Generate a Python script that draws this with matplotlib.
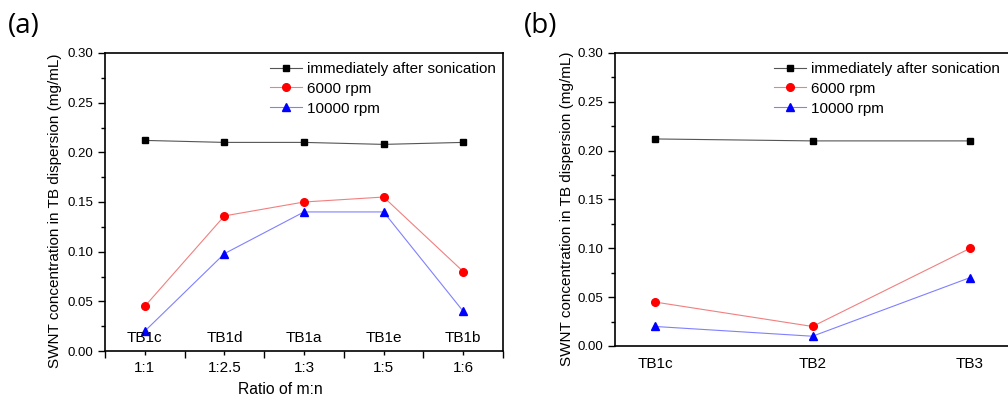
import numpy as np
import matplotlib
matplotlib.use("Agg")
import matplotlib.pyplot as plt
from matplotlib.ticker import MultipleLocator, FixedLocator

plt.rcParams["font.family"] = ["Liberation Sans", "DejaVu Sans"]

# panel (a)
ratios = ["1:1", "1:2.5", "1:3", "1:5", "1:6"]
samples_a = ["TB1c", "TB1d", "TB1a", "TB1e", "TB1b"]
after_son_a = [0.212, 0.210, 0.210, 0.208, 0.210]
rpm6000_a = [0.045, 0.136, 0.150, 0.155, 0.080]
rpm10000_a = [0.020, 0.098, 0.140, 0.140, 0.040]

# panel (b)
samples_b = ["TB1c", "TB2", "TB3"]
after_son_b = [0.212, 0.210, 0.210]
rpm6000_b = [0.045, 0.020, 0.100]
rpm10000_b = [0.020, 0.010, 0.070]

labels = ["immediately after sonication", "6000 rpm", "10000 rpm"]

W, H = 1008, 399
fig = plt.figure(figsize=(W / 100, H / 100), dpi=100)


def px_axes(l, t, r, b):
    return fig.add_axes([l / W, 1 - b / H, (r - l) / W, (b - t) / H])


def draw_series(ax, x, ys):
    styles = [("black", "s", 5), ("red", "o", 5.5), ("blue", "^", 6)]
    line_cols = ["#555555", "#f08080", "#8080ff"]
    for y, (c, m, ms), lc, lab in zip(ys, styles, line_cols, labels):
        ax.plot(x, y, color=lc, lw=0.8, marker=m, ms=ms,
                mfc=c, mec=c, label=lab)


def style_y(ax):
    ax.set_ylim(0, 0.30)
    ax.yaxis.set_major_locator(MultipleLocator(0.05))
    ax.yaxis.set_minor_locator(MultipleLocator(0.025))
    ax.set_yticklabels([f"{v:.2f}" for v in ax.get_yticks()])
    ax.tick_params(axis="y", which="major", direction="out", length=5,
                   width=1, labelsize=9.5, colors="black")
    ax.tick_params(axis="y", which="minor", direction="out", length=3, width=1)
    for s in ax.spines.values():
        s.set_linewidth(1.2)


def add_legend(ax, x0, y0):
    ax.legend(loc="upper left", bbox_to_anchor=(x0, y0),
              frameon=False, fontsize=11, borderpad=0, borderaxespad=0,
              handlelength=2.1, handletextpad=0.35, labelspacing=0.38)


# ---- (a)
ax1 = px_axes(105, 53, 503, 351)
xa = np.arange(1, len(ratios) + 1)
draw_series(ax1, xa, [after_son_a, rpm6000_a, rpm10000_a])
ax1.set_xlim(0.5, len(ratios) + 0.5)
style_y(ax1)
ax1.xaxis.set_major_locator(FixedLocator(np.arange(0.5, len(ratios) + 1, 1.0)))
ax1.xaxis.set_minor_locator(FixedLocator(xa))
ax1.set_xticklabels([])
ax1.set_xticklabels(ratios, minor=True)
ax1.tick_params(axis="x", which="major", direction="out", length=5, width=1)
ax1.tick_params(axis="x", which="minor", direction="out", length=3, width=1,
                labelsize=11, pad=4)
for xi, s in zip(xa, samples_a):
    ax1.text(xi, 0.013, s, ha="center", va="center", fontsize=11)
ax1.set_xlabel("Ratio of m:n", fontsize=11.3)
ax1.xaxis.set_label_coords((280 - 105) / 398, (351 - 382) / 298)
add_legend(ax1, (270 - 105) / 398, (351 - 62) / 298)

# ---- (b)
ax2 = px_axes(615, 53, 1010, 346)
xb = np.arange(1, len(samples_b) + 1)
draw_series(ax2, xb, [after_son_b, rpm6000_b, rpm10000_b])
ax2.set_xlim(0.746, len(samples_b) + 0.254)
style_y(ax2)
ax2.set_xticks(xb)
ax2.set_xticklabels(samples_b)
ax2.tick_params(axis="x", length=0, labelsize=11, pad=8)
add_legend(ax2, (774 - 615) / 395, (346 - 62) / 293)

ylab = "SWNT concentration in TB dispersion (mg/mL)"
fig.text(55 / W, 1 - 211 / H, ylab, rotation=90, ha="center", va="center",
         fontsize=11)
fig.text(567 / W, 1 - 209 / H, ylab, rotation=90, ha="center", va="center",
         fontsize=11)

fig.text(8 / W, 1 - 26 / H, "(a)", fontsize=20, ha="left", va="center",
         family=["Open Sans", "DejaVu Sans"])
fig.text(524 / W, 1 - 26 / H, "(b)", fontsize=20, ha="left", va="center",
         family=["Open Sans", "DejaVu Sans"])

fig.savefig("out.png", dpi=100)
